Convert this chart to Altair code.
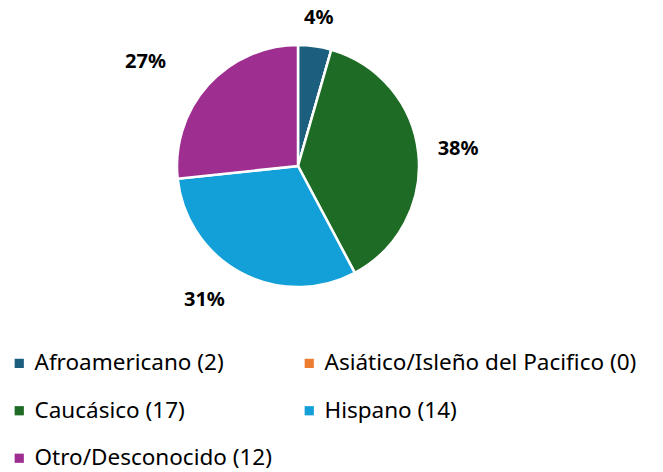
import altair as alt
import pandas as pd

categories = ["Afroamericano", "Asiático/Isleño del Pacifico", "Caucásico", "Hispano", "Otro/Desconocido"]
counts = [2, 0, 17, 14, 12]
colors = ["#1B5E7E", "#ED7D31", "#1E6B25", "#13A0D8", "#9E2F91"]

labels = [f"{c} ({n})" for c, n in zip(categories, counts)]
df = pd.DataFrame({"label": labels, "value": counts, "idx": list(range(len(counts)))})

CX, CY, R = 298, 166, 121
TOTAL = sum(counts)

color = alt.Color(
    "label:N",
    scale=alt.Scale(domain=labels, range=colors),
    sort=labels,
    legend=alt.Legend(
        title=None,
        orient="none",
        direction="horizontal",
        legendX=8,
        legendY=352,
        columns=2,
        columnPadding=26,
        rowPadding=24.5,
        symbolType="square",
        symbolSize=85,
        symbolStrokeWidth=0,
        labelFont="Noto Sans",
        labelFontSize=22.5,
        labelColor="#000000",
        labelLimit=400,
        labelOffset=4,
    ),
)

arcs = alt.Chart(df).mark_arc(outerRadius=R, stroke="white", strokeWidth=2.5).encode(
    theta=alt.Theta("value:Q", stack=True, scale=alt.Scale(domain=[0, TOTAL])),
    order=alt.Order("idx:Q"),
    color=color,
    x=alt.value(CX),
    y=alt.value(CY),
)


def label_layer(cond, radius, dx=0, dy=0):
    return alt.Chart(df).transform_window(
        cum="sum(value)", sort=[alt.SortField("idx")]
    ).transform_calculate(
        mid="datum.cum - datum.value / 2",
        pct="format(datum.value / %d, '.0%%')" % TOTAL,
    ).transform_filter(cond).mark_text(
        font="Noto Sans", fontSize=20, fontWeight="bold", color="#000000",
        radius=radius, dx=dx, dy=dy,
    ).encode(
        theta=alt.Theta("mid:Q", stack=None, scale=alt.Scale(domain=[0, TOTAL])),
        text=alt.Text("pct:N"),
        x=alt.value(CX),
        y=alt.value(CY),
    )


lab_small = label_layer("datum.value > 0 && datum.value < 5", 149)
lab_cau = label_layer("datum.idx == 2", 161)
lab_his = label_layer("datum.idx == 3", 161, dx=-18, dy=-8)
lab_otr = label_layer("datum.idx == 4", 185, dx=-15, dy=20)

chart = alt.layer(arcs, lab_small, lab_cau, lab_his, lab_otr).properties(
    width=663, height=472, autosize=alt.AutoSizeParams(type="none"), padding=0
).configure_view(stroke=None)

chart.save("out.html", embed_options={"renderer": "svg", "actions": False})
